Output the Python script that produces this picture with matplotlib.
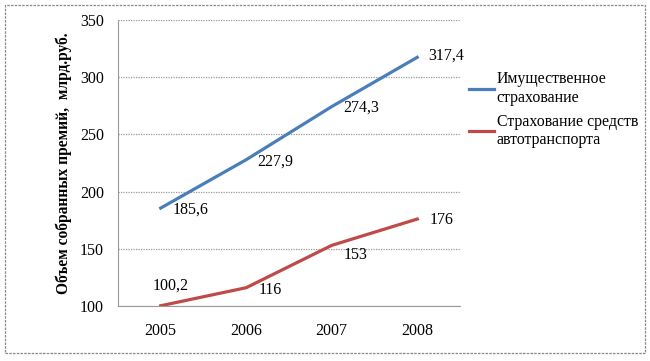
import matplotlib.pyplot as plt
from matplotlib.patches import Rectangle

plt.rcParams['font.family'] = ['Liberation Serif', 'DejaVu Serif']

years = ['2005', '2006', '2007', '2008']
property_ins = [185.6, 227.9, 274.3, 317.4]
auto_ins = [100.2, 116, 153, 176]
property_labels = ['185,6', '227,9', '274,3', '317,4']
auto_labels = ['100,2', '116', '153', '176']
series_names = ['Имущественное\nстрахование', 'Страхование средств\nавтотранспорта']

fig = plt.figure(figsize=(6.5, 3.61), dpi=100)
ax = fig.add_axes([0.1815, 0.1524, 0.5262, 0.7922])

x = range(len(years))
ax.plot(x, property_ins, color='#4a7ebb', lw=2.3, label=series_names[0])
ax.plot(x, auto_ins, color='#be4b48', lw=2.3, label=series_names[1])

# подписи значений (смещения в пикселях)
blue_off = [(12, -2), (11, -2), (12, -1), (11, 2)]
red_off = [(-8, 20), (12, -2), (12, -10), (12, -1)]
for i, (v, t) in enumerate(zip(property_ins, property_labels)):
    ax.annotate(t, (i, v), xytext=blue_off[i], textcoords='offset pixels',
                ha='left', va='center', fontsize=11.5)
for i, (v, t) in enumerate(zip(auto_ins, auto_labels)):
    ax.annotate(t, (i, v), xytext=red_off[i], textcoords='offset pixels',
                ha='left', va='center', fontsize=11.5)

ax.set_xlim(-0.5, 3.5)
ax.set_ylim(100, 350)
ax.set_yticks(range(100, 351, 50))
ax.set_xticks(list(x))
ax.set_xticklabels(years)
ax.tick_params(axis='both', length=0, labelsize=11.5)
ax.tick_params(axis='x', pad=12)
ax.tick_params(axis='y', pad=10)
ax.grid(axis='y', color='#999999', lw=0.9, linestyle=(0, (1, 1)))
ax.set_axisbelow(True)
for s in ['top', 'right']:
    ax.spines[s].set_visible(False)
ax.spines['left'].set_color('#999999')
ax.spines['left'].set_linestyle((0, (1, 1)))
ax.spines['bottom'].set_color('#999999')
ax.set_ylabel('Объем собранных премий,  млрд.руб.', fontsize=11.2, fontweight='bold', labelpad=6)

ax.legend(loc='upper left', bbox_to_anchor=(0.985, 0.87), frameon=False, fontsize=11.4,
          handlelength=1.6, handletextpad=0.15, labelspacing=0.5)

# рамка вокруг диаграммы
fig.patches.append(Rectangle((0.008, 0.022), 0.985, 0.965, transform=fig.transFigure,
                             fill=False, ec='#888888', lw=0.9, ls=(0, (2, 1))))

fig.savefig('out.png', dpi=100)
